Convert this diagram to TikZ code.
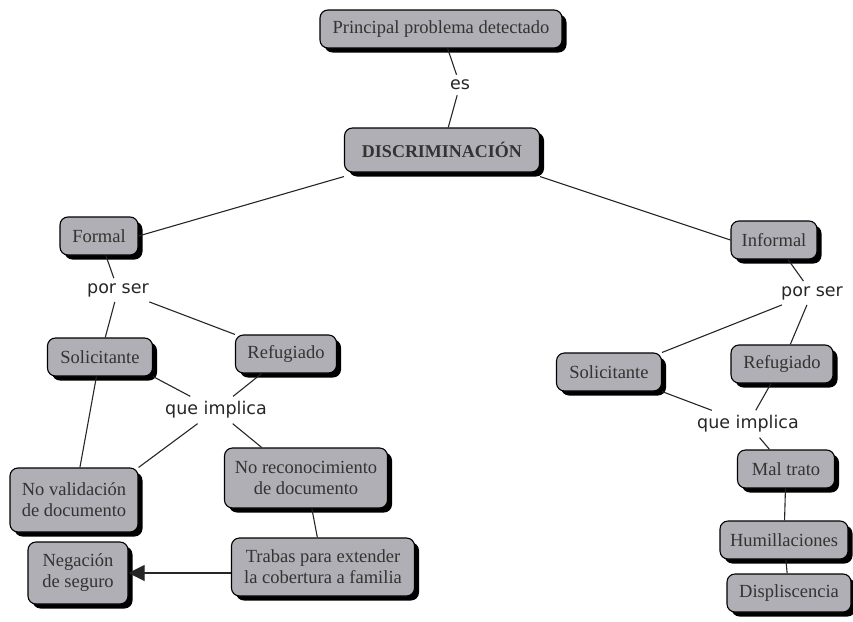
\documentclass[tikz,border=0pt]{standalone}
\usepackage{fontspec}
\setmainfont{Liberation Serif}
\newfontfamily\linkfont{DejaVu Sans}
\usetikzlibrary{calc,
	positioning,
	shadows,
	arrows.meta}
\definecolor{boxgray}{HTML}{AFAFB5}
\definecolor{txtgray}{HTML}{333333}
\tikzstyle{cpt}=[draw=black, fill=boxgray, rounded corners=8pt, line width=1.1pt,
		text=txtgray, font=\fontsize{18.5}{21}\selectfont, align=center,
		inner xsep=8pt, minimum height=38pt,
		drop shadow={shadow xshift=4.5pt, shadow yshift=-4.5pt, fill=black, opacity=1}]
\tikzstyle{lnk}=[font=\linkfont\fontsize{17.5}{20}\selectfont, text=black!85, inner sep=5pt]
\tikzstyle{con}=[draw, line width=1.1pt, black!85]

\begin{document}
\begin{tikzpicture}[x=1pt, y=-1pt]
                \useasboundingbox (0,0) rectangle (853,621);
                % top of the map
                \node[cpt, minimum width=242pt] (ppd) at (441,29) {Principal problema detectado};
                \node[lnk] (es) at (460,85) {es};
                \node[cpt, minimum width=195pt, minimum height=44pt, font=\fontsize{18}{20}\selectfont\bfseries] (dis) at (442,150) {DISCRIMINACIÓN};
                \node[cpt, minimum width=78pt] (for) at (99,236) {Formal};
                \node[cpt, minimum width=86pt] (inf) at (774,240) {Informal};
                % left branch
                \node[lnk] (psl) at (118,290) {por ser};
                \node[cpt, minimum width=105pt] (sol) at (100,357) {Solicitante};
                \node[cpt, minimum width=101pt] (ref) at (286,354) {Refugiado};
                \node[lnk] (qil) at (216,410) {que implica};
                \node[cpt, minimum width=128pt, minimum height=64pt] (nva) at (74,500) {No validación\\de documento};
                \node[cpt, minimum width=163pt, minimum height=60pt] (nre) at (306,478) {No reconocimiento\\de documento};
                \node[cpt, minimum width=183pt, minimum height=58pt] (tra) at (323,567) {Trabas para extender\\la cobertura a familia};
                \node[cpt, minimum width=100pt, minimum height=62pt] (neg) at (78,573) {Negación\\de seguro};
                % right branch
                \node[lnk] (psr) at (812,293) {por ser};
                \node[cpt, minimum width=105pt] (sor) at (609,372) {Solicitante};
                \node[cpt, minimum width=102pt] (rer) at (782,364) {Refugiado};
                \node[lnk] (qir) at (748,424) {que implica};
                \node[cpt, minimum width=97pt] (mal) at (786,469) {Mal trato};
                \node[cpt, minimum width=128pt] (hum) at (784,540) {Humillaciones};
                \node[cpt, minimum width=124pt] (dsp) at (789,593) {Displiscencia};

                \draw[con] (ppd) -- (es) -- (dis);
                \draw[con] (dis.south west) ++(0,4) -- (for.east);
                \draw[con] (dis.south east) ++(0,4) -- (inf.west);
                \draw[con] (for) -- (psl) -- (sol);
                \draw[con] (psl) -- (ref.north west);
                \draw[con] (inf) -- (psr) -- (rer);
                \draw[con] (psr) -- (sor.north east);
                \draw[con] (sol.south east) -- (qil) -- (ref);
                \draw[con] (qil) -- (nva.north east);
                \draw[con] (qil) -- ($(nre.north west)!0.23!(nre.north east)$);
                \draw[con] (sol) -- (nva);
                \draw[con] (nre) -- (tra);
                \draw[con, -{Triangle[length=16pt, width=16pt]}] (tra.west |- neg.east) -- (neg.east);
                \draw[con] (sor.south east) -- (qir) -- (rer);
                \draw[con] (qir) -- (mal);
                \draw[con] (mal) -- (hum) -- (dsp);
            \end{tikzpicture}
\end{document}
